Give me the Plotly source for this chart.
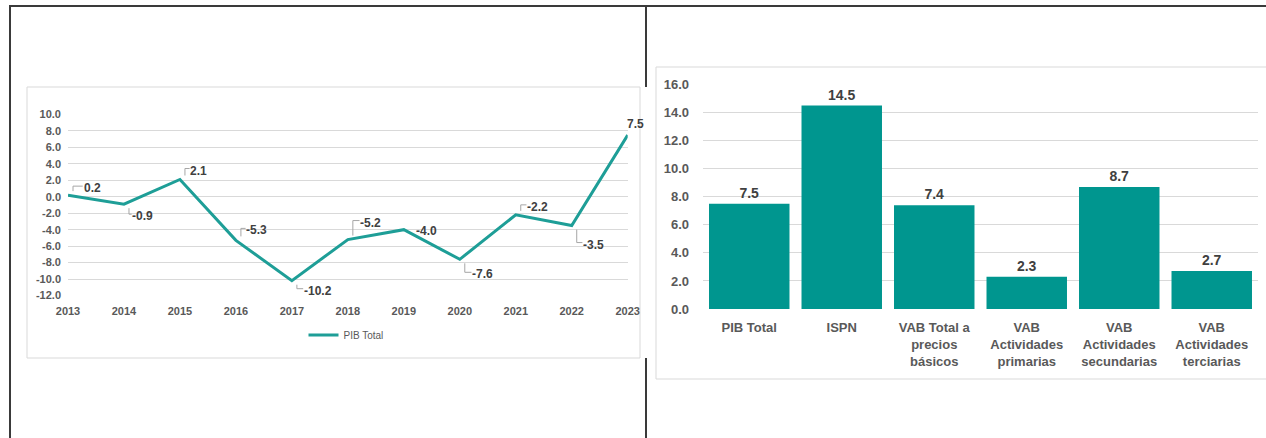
import plotly.graph_objects as go

# ---------------- data ----------------
years = [2013, 2014, 2015, 2016, 2017, 2018, 2019, 2020, 2021, 2022, 2023]
pib_total = [0.2, -0.9, 2.1, -5.3, -10.2, -5.2, -4.0, -7.6, -2.2, -3.5, 7.5]
year_labels = [str(y) for y in years]
left_ytick_vals = [10, 8, 6, 4, 2, 0, -2, -4, -6, -8, -10, -12]
left_ytick_text = ["10.0", "8.0", "6.0", "4.0", "2.0", "0.0", "-2.0", "-4.0", "-6.0", "-8.0", "-10.0", "-12.0"]

bar_categories = ["PIB Total", "ISPN", "VAB Total a precios básicos",
                  "VAB Actividades primarias", "VAB Actividades secundarias",
                  "VAB Actividades terciarias"]
bar_ticktext = ["PIB Total", "ISPN", "VAB Total a<br>precios<br>básicos",
                "VAB<br>Actividades<br>primarias", "VAB<br>Actividades<br>secundarias",
                "VAB<br>Actividades<br>terciarias"]
bar_values = [7.5, 14.5, 7.4, 2.3, 8.7, 2.7]
right_ytick_vals = [0, 2, 4, 6, 8, 10, 12, 14, 16]
right_ytick_text = ["0.0", "2.0", "4.0", "6.0", "8.0", "10.0", "12.0", "14.0", "16.0"]

# label placement (pixel offsets of label centre from the point) and leader flag
label_offsets = [(24, 7), (19, -12), (19, 9), (21, 10), (26, -10), (23, 17),
                 (23, -1), (23, -15), (22, 8), (22, -19), (8, 11)]
label_leader = [True, True, True, True, True, True, False, True, True, True, False]

# ---------------- style ----------------
W, H = 1266, 438
FONT = "Liberation Sans, Arial, sans-serif"
TEAL_LINE = "#1E9E97"
TEAL_BAR = "#00968F"
GRID = "#D9D9D9"
TICK_COL = "#595959"
LABEL_COL = "#404040"


def px(x):
    return x / W


def py(y):
    return 1 - y / H


def label(v):
    return f"{v:.1f}"


CHAR_W = {"-": 0.333, ".": 0.278}


def text_halfwidth(s, size):
    return sum(CHAR_W.get(c, 0.556) for c in s) * size / 2


fig = go.Figure()

# line chart
fig.add_trace(go.Scatter(
    x=years, y=pib_total, mode="lines", name="PIB Total",
    line=dict(color=TEAL_LINE, width=3), xaxis="x", yaxis="y",
    showlegend=True, cliponaxis=False,
))

# bar chart
fig.add_trace(go.Bar(
    x=bar_categories, y=bar_values, marker=dict(color=TEAL_BAR, line=dict(width=0)),
    xaxis="x2", yaxis="y2", showlegend=False,
    text=[label(v) for v in bar_values], textposition="outside",
    textfont=dict(family=FONT, size=14, color=LABEL_COL, weight="bold"),
    cliponaxis=False,
))

annotations = []
shapes = []

# data labels + leader lines for the line chart
LBL_SIZE = 12
for xv, yv, (dx, dy), lead in zip(years, pib_total, label_offsets, label_leader):
    txt = label(yv)
    annotations.append(dict(
        x=xv, y=yv, xref="x", yref="y", text=txt, showarrow=False,
        xshift=dx, yshift=dy,
        font=dict(family=FONT, size=LBL_SIZE, color=LABEL_COL, weight="bold"),
    ))
    if lead:
        hw = text_halfwidth(txt, LBL_SIZE)
        sy = 4 if dy > 0 else -4
        hy = dy + 2
        xl = dx - hw - 1
        shapes.append(dict(
            type="path", xref="x", yref="y", xsizemode="pixel", ysizemode="pixel",
            xanchor=xv, yanchor=yv,
            path=f"M 5,{sy} L 5,{hy} L {xl:.1f},{hy}",
            line=dict(color="#A6A6A6", width=1),
        ))

# frame / boxes (paper coordinates)
BORDER = "#3A3A3A"
shapes = [
    dict(type="rect", xref="paper", yref="paper", x0=px(27), x1=px(640), y0=py(358), y1=py(87),
         line=dict(color=GRID, width=1), fillcolor="white", layer="below"),
    dict(type="rect", xref="paper", yref="paper", x0=px(656), x1=px(1272), y0=py(379), y1=py(67),
         line=dict(color=GRID, width=1), fillcolor="white", layer="below"),
    dict(type="line", xref="paper", yref="paper", x0=px(9), x1=px(1266), y0=py(6), y1=py(6),
         line=dict(color=BORDER, width=2)),
    dict(type="line", xref="paper", yref="paper", x0=px(10), x1=px(10), y0=py(6), y1=py(440),
         line=dict(color=BORDER, width=2)),
    dict(type="line", xref="paper", yref="paper", x0=px(646), x1=px(646), y0=py(6), y1=py(87),
         line=dict(color=BORDER, width=2)),
    dict(type="line", xref="paper", yref="paper", x0=px(646), x1=px(646), y0=py(358), y1=py(440),
         line=dict(color=BORDER, width=2)),
] + shapes

fig.update_layout(
    width=W, height=H, margin=dict(l=0, r=0, t=0, b=0, autoexpand=False),
    paper_bgcolor="white", plot_bgcolor="rgba(0,0,0,0)",
    font=dict(family=FONT, color=TICK_COL),
    bargap=0.13,
    xaxis=dict(
        domain=[px(68), px(627.7)], range=[2013, 2023], anchor="y", automargin=False,
        tickvals=years, ticktext=year_labels, showgrid=False, zeroline=False,
        showline=False, ticks="", ticklabelstandoff=7,
        tickfont=dict(family=FONT, size=11, color=TICK_COL, weight="bold"),
    ),
    yaxis=dict(
        domain=[py(295.5), py(114.5)], range=[-12, 10], anchor="x", automargin=False,
        tickvals=left_ytick_vals, ticktext=left_ytick_text,
        showgrid=True, gridcolor=GRID, gridwidth=1, zeroline=False, showline=False,
        ticks="", ticklabelstandoff=6,
        tickfont=dict(family=FONT, size=11, color=TICK_COL, weight="bold"),
    ),
    xaxis2=dict(
        domain=[px(703), px(1258)], anchor="y2", type="category", automargin=False,
        tickvals=bar_categories, ticktext=bar_ticktext, showgrid=False,
        zeroline=False, showline=False, ticks="", ticklabelstandoff=9,
        tickfont=dict(family=FONT, size=13, color=TICK_COL, weight="bold"),
    ),
    yaxis2=dict(
        domain=[py(309), py(84.5)], range=[0, 16], anchor="x2", automargin=False,
        tickvals=right_ytick_vals, ticktext=right_ytick_text,
        showgrid=True, gridcolor=GRID, gridwidth=1, zeroline=False, showline=False,
        ticks="", ticklabelstandoff=13,
        tickfont=dict(family=FONT, size=13, color=TICK_COL, weight="bold"),
    ),
    legend=dict(
        orientation="h", x=px(346), xanchor="center", y=py(335), yanchor="middle",
        font=dict(family=FONT, size=10, color=TICK_COL), itemwidth=30,
        bgcolor="rgba(0,0,0,0)",
    ),
    shapes=shapes,
    annotations=annotations,
)

fig.write_html("out.html", config={"displayModeBar": False},
               post_script="document.body.style.margin='0';document.body.style.overflow='hidden';")
